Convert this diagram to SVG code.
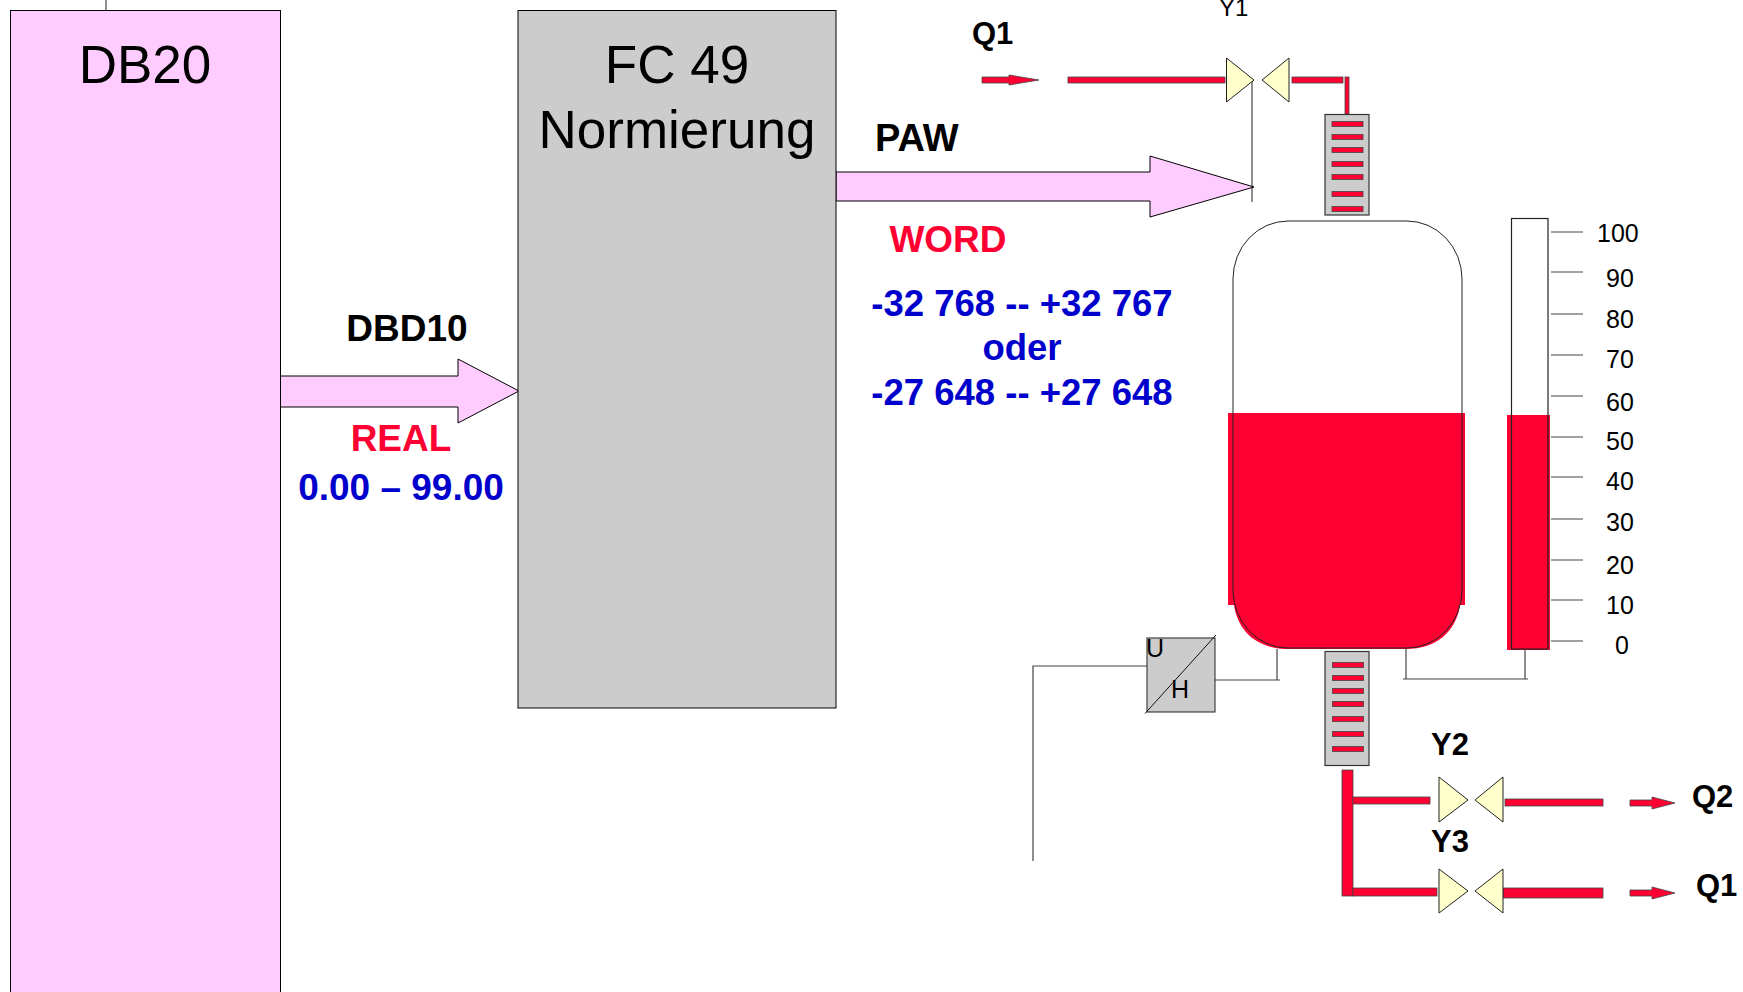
<svg xmlns="http://www.w3.org/2000/svg" width="1743" height="992" viewBox="0 0 1743 992">
<style>
text{font-family:"Liberation Sans",Arial,sans-serif;fill:#000}
.big{font-size:53px}
.b{font-weight:bold;font-size:37px}
.w{font-weight:bold;font-size:36.500px}
.m{text-anchor:middle}
.q{font-weight:bold;font-size:31px}
.n{font-size:25px}
.red{fill:#FF0033}
.blue{fill:#0000CC}
.pink{fill:#FFCCFF;stroke:#000;stroke-width:1}
.grey{fill:#CCCCCC;stroke:#333;stroke-width:1.2}
.valve{fill:#FFFFCC;stroke:#222;stroke-width:1}
.pipe{fill:#FF0033;stroke:#444;stroke-width:.8}
.line{fill:none;stroke:#444;stroke-width:1.2}
</style>
<defs>
<g id="flow"><polygon class="pipe" points="0,-3 22,-3 22,-6 45,0 22,6 22,3 0,3"/></g>
<g id="bar"><rect class="pipe" x="0" y="-2.500" width="31" height="5"/></g>
</defs>
<g id="connectors">
<path class="line" d="M106 0V10"/>
<path class="line" d="M1252 80V202"/>
<path class="line" d="M1147 666H1033V861"/>
<path class="line" d="M1215 680H1280M1277 649V680"/>
<path class="line" d="M1406 649V679M1403 679H1528M1525 650V679"/>
<polygon class="pink" points="280.500,376 458,376 458,359 519,391 458,423 458,407 280.500,407"/>
<polygon class="pink" points="836,172 1150,172 1150,156 1254,187 1150,217 1150,201 836,201"/>
</g>
<g id="db20"><rect class="pink" x="10.500" y="10.500" width="270" height="1000"/><text class="m" x="145" y="83" style="font-size:53px">DB20</text></g>
<g id="fc49"><rect x="518" y="10.500" width="318" height="697.500" fill="#CCCCCC" stroke="#000"/>
<text class="big m" x="677" y="83">FC 49</text><text class="big m" x="677" y="148">Normierung</text></g>
<g id="labels">
<text class="b m" x="407" y="341">DBD10</text>
<text class="b m red" x="401" y="451">REAL</text>
<text class="b m blue" x="401" y="500">0.00 – 99.00</text>
<text x="875" y="151" style="font-weight:bold;font-size:38px">PAW</text>
<text class="b m red" x="948" y="252">WORD</text>
<text class="w m blue" x="1022" y="316">-32 768 -- +32 767</text>
<text class="w m blue" x="1022" y="360">oder</text>
<text class="w m blue" x="1022" y="405">-27 648 -- +27 648</text>
</g>
<g id="inlet">
<polygon class="pipe" points="982,77 1009,77 1009,75 1039,80 1009,85 1009,83 982,83"/>
<text class="q" x="972" y="44">Q1</text>
<text x="1219" y="16" style="font-size:24px">Y1</text>
<rect class="pipe" x="1068" y="77" width="157" height="6"/>
<rect class="pipe" x="1292" y="77" width="51" height="6"/>
<rect class="pipe" x="1345" y="77" width="4" height="37"/>
<polygon class="valve" points="1226.500,58 1254,80 1226.500,102"/>
<polygon class="valve" points="1262,80 1289,58 1289,102"/>
</g>
<g id="filter-top">
<rect class="grey" x="1325" y="114.500" width="44" height="100.500"/>
<use href="#bar" x="1332" y="124"/><use href="#bar" x="1332" y="137"/><use href="#bar" x="1332" y="150"/><use href="#bar" x="1332" y="164"/><use href="#bar" x="1332" y="177"/><use href="#bar" x="1332" y="194"/><use href="#bar" x="1332" y="209"/>
</g>
<g id="tank">
<path d="M1228 413H1465V605H1460C1456 632 1436 649 1406 649H1288C1258 649 1238 632 1234 605H1228Z" fill="#FF0033"/>
<rect x="1233" y="221" width="229" height="427" rx="55" ry="58" fill="none" stroke="#222" stroke-width="1"/>
</g>
<g id="gauge">
<rect x="1507" y="415" width="43" height="235" fill="#FF0033"/>
<rect x="1511.500" y="218.500" width="36.500" height="430.500" fill="none" stroke="#222" stroke-width="1.200"/>
<path class="line" d="M1551 232H1583M1551 272H1583M1551 314H1583M1551 355H1583M1551 396H1583M1551 437H1583M1551 477H1583M1551 519H1583M1551 560H1583M1551 600H1583M1551 641H1583"/>
<text class="n" x="1597" y="242">100</text>
<text class="n" x="1606" y="287">90</text>
<text class="n" x="1606" y="328">80</text>
<text class="n" x="1606" y="368">70</text>
<text class="n" x="1606" y="411">60</text>
<text class="n" x="1606" y="450">50</text>
<text class="n" x="1606" y="490">40</text>
<text class="n" x="1606" y="531">30</text>
<text class="n" x="1606" y="574">20</text>
<text class="n" x="1606" y="614">10</text>
<text class="n" x="1615" y="654">0</text>
</g>
<g id="converter">
<rect x="1147" y="638" width="68" height="74" fill="#CCCCCC" stroke="#222" stroke-width="1"/>
<path d="M1145 713.500L1216 635" stroke="#111" stroke-width="1" fill="none"/>
<text class="n" x="1146" y="657">U</text>
<text class="n" x="1171" y="698">H</text>
</g>
<g id="filter-bottom">
<rect class="grey" x="1325" y="651.500" width="44" height="114"/>
<use href="#bar" x="1332.500" y="665"/><use href="#bar" x="1332.500" y="678"/><use href="#bar" x="1332.500" y="691"/><use href="#bar" x="1332.500" y="704"/><use href="#bar" x="1332.500" y="719"/><use href="#bar" x="1332.500" y="734"/><use href="#bar" x="1332.500" y="749"/>
</g>
<g id="outlet">
<rect class="pipe" x="1342" y="770" width="11" height="126"/>
<rect class="pipe" x="1353" y="797" width="77" height="7"/>
<rect class="pipe" x="1353" y="888" width="84" height="8"/>
<rect class="pipe" x="1505" y="799" width="98" height="7"/>
<rect class="pipe" x="1503" y="888" width="100" height="10"/>
<polygon class="valve" points="1439,777 1468,800 1439,822"/>
<polygon class="valve" points="1475,800 1503,777 1503,822"/>
<polygon class="valve" points="1439,869 1468,891 1439,913"/>
<polygon class="valve" points="1475,891 1503,869 1503,913"/>
<use href="#flow" x="1630" y="803"/>
<use href="#flow" x="1630" y="893"/>
<text class="q m" x="1450" y="755">Y2</text>
<text class="q m" x="1450" y="852">Y3</text>
<text class="q" x="1692" y="807">Q2</text>
<text class="q" x="1696" y="896">Q1</text>
</g>
</svg>
